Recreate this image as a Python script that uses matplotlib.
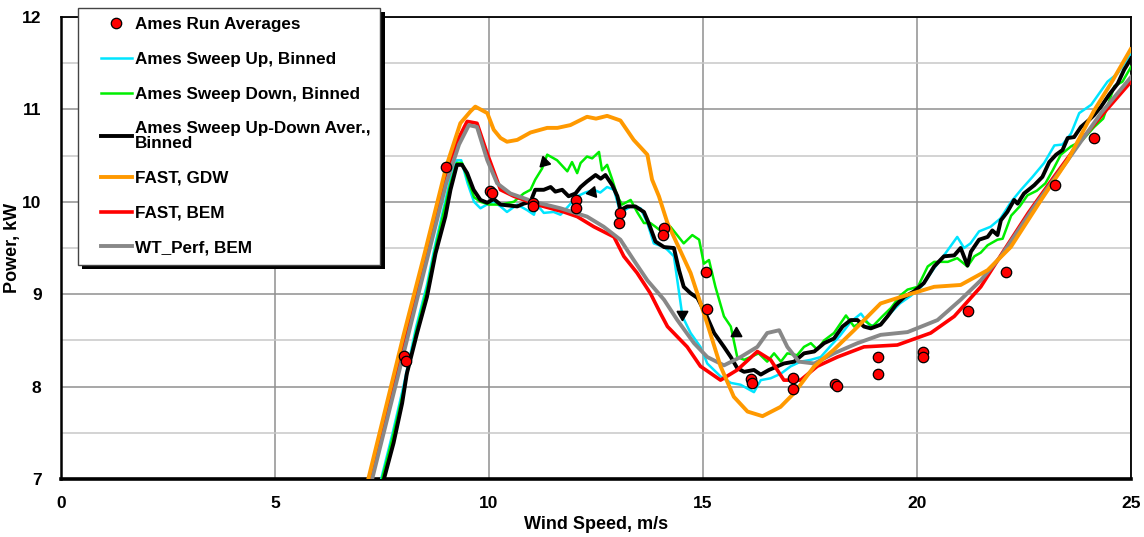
import matplotlib
matplotlib.use("Agg")
import matplotlib.pyplot as plt
import matplotlib.patheffects as pe
from matplotlib.legend_handler import HandlerLine2D

plt.rcParams['font.family'] = ['Liberation Sans', 'DejaVu Sans']
plt.rcParams['font.weight'] = 'bold'

# ---------------- data ----------------
run_w = [8.02, 8.07, 9.0, 10.03, 10.07, 11.03, 11.03, 12.04, 12.04, 13.07, 13.03,
         14.10, 14.07, 15.08, 15.10, 16.11, 16.14, 17.10, 17.11, 18.08, 18.14,
         19.10, 19.10, 20.14, 20.14, 21.18, 22.09, 23.22, 24.13]
run_p = [8.33, 8.28, 10.38, 10.12, 10.10, 9.99, 9.95, 10.02, 9.93, 9.88, 9.77,
         9.72, 9.64, 9.24, 8.84, 8.08, 8.04, 8.09, 7.97, 8.03, 8.01,
         8.32, 8.14, 8.37, 8.32, 8.82, 9.24, 10.18, 10.69]

up_w = [7.48, 7.75, 8.0, 8.3, 8.55, 8.75, 8.95, 9.1, 9.25, 9.35, 9.5, 9.65, 9.8, 9.95,
        10.11, 10.27, 10.42, 10.66, 10.89, 11.05, 11.12, 11.28, 11.51, 11.67, 11.85,
        12.06, 12.25, 12.45, 12.6, 12.76, 12.92, 13.07, 13.31, 13.54, 13.7, 13.85,
        14.09, 14.17, 14.32, 14.4, 14.52, 14.71, 14.94, 15.1, 15.41, 15.65, 15.88,
        16.11, 16.19, 16.35, 16.58, 16.82, 17.05, 17.28, 17.52, 17.75, 18.0, 18.2,
        18.45, 18.69, 18.9, 19.15, 19.35, 19.6, 19.85, 20.1, 20.4, 20.63, 20.94,
        21.1, 21.25, 21.45, 21.72, 21.95, 22.2, 22.43, 22.7, 22.97, 23.21, 23.4,
        23.6, 23.79, 24.07, 24.45, 24.69, 25.0]
up_p = [7.0, 7.5, 8.0, 8.65, 9.1, 9.55, 9.95, 10.25, 10.45, 10.45, 10.2, 10.0, 9.93, 9.97,
        10.0, 9.95, 9.89, 9.97, 9.91, 9.86, 9.97, 9.88, 9.89, 9.86, 9.95,
        10.06, 10.1, 10.13, 10.1, 10.16, 10.13, 9.88, 9.95, 9.93, 9.77, 9.55,
        9.51, 9.48, 9.41, 9.15, 8.76, 8.58, 8.43, 8.25, 8.11, 8.04, 8.02,
        7.96, 7.94, 8.07, 8.09, 8.14, 8.22, 8.27, 8.29, 8.32, 8.45, 8.55,
        8.7, 8.79, 8.66, 8.67, 8.78, 8.9, 8.98, 9.08, 9.28, 9.42, 9.62,
        9.5, 9.55, 9.68, 9.73, 9.82, 10.0, 10.13, 10.27, 10.42, 10.61, 10.62,
        10.74, 10.96, 11.05, 11.30, 11.39, 11.61]

down_w = [7.5, 7.75, 8.0, 8.3, 8.55, 8.75, 8.95, 9.1, 9.25, 9.37, 9.5, 9.65, 9.8, 10.0,
          10.27, 10.58, 10.81, 10.97, 11.08, 11.24, 11.36, 11.59, 11.83, 11.94, 12.06,
          12.14, 12.29, 12.41, 12.57, 12.64, 12.76, 12.88, 13.0, 13.11, 13.31, 13.46,
          13.62, 13.77, 13.89, 14.0, 14.24, 14.55, 14.75, 14.91, 15.02, 15.14, 15.29,
          15.49, 15.65, 15.8, 15.96, 16.11, 16.3, 16.5, 16.66, 16.82, 16.97, 17.2,
          17.36, 17.52, 17.67, 17.83, 18.06, 18.34, 18.53, 18.76, 18.96, 19.19, 19.39,
          19.62, 19.78, 20.02, 20.25, 20.4, 20.72, 20.94, 21.18, 21.34, 21.49, 21.65,
          21.88, 22.0, 22.2, 22.4, 22.58, 22.8, 23.0, 23.17, 23.36, 23.6, 23.85, 24.14,
          24.35, 24.61, 24.8, 25.0]
down_p = [7.0, 7.45, 7.95, 8.6, 9.05, 9.5, 9.9, 10.2, 10.42, 10.42, 10.25, 10.05, 10.0, 9.97,
          9.97, 10.0, 10.09, 10.13, 10.24, 10.36, 10.51, 10.45, 10.33, 10.43, 10.31,
          10.42, 10.49, 10.47, 10.54, 10.34, 10.40, 10.24, 10.06, 9.97, 10.02, 9.89,
          9.77, 9.77, 9.73, 9.69, 9.73, 9.55, 9.64, 9.59, 9.33, 9.37, 9.08,
          8.76, 8.65, 8.32, 8.29, 8.32, 8.36, 8.27, 8.36, 8.27, 8.36, 8.34,
          8.43, 8.47, 8.40, 8.5, 8.58, 8.77, 8.65, 8.72, 8.65, 8.76, 8.85,
          8.99, 9.05, 9.08, 9.30, 9.35, 9.35, 9.39, 9.30, 9.41, 9.45, 9.53,
          9.59, 9.6, 9.85, 9.95, 10.07, 10.12, 10.2, 10.34, 10.51, 10.6, 10.66, 10.81,
          10.9, 11.25, 11.3, 11.46]

avg_w = [7.54, 7.77, 7.97, 8.08, 8.32, 8.55, 8.75, 8.98, 9.1, 9.25, 9.37, 9.49, 9.64, 9.8,
         9.96, 10.11, 10.27, 10.66, 10.81, 10.97, 11.08, 11.28, 11.44, 11.55, 11.71,
         11.86, 12.02, 12.14, 12.29, 12.49, 12.61, 12.72, 12.88, 13.0, 13.07, 13.23,
         13.42, 13.62, 13.73, 13.89, 14.09, 14.32, 14.44, 14.55, 14.71, 14.87, 15.06,
         15.26, 15.49, 15.65, 15.8, 15.96, 16.19, 16.35, 16.54, 16.89, 17.13, 17.36,
         17.6, 17.83, 18.06, 18.26, 18.45, 18.61, 18.76, 18.92, 19.15, 19.31, 19.5,
         19.7, 19.93, 20.16, 20.4, 20.63, 20.87, 21.02, 21.18, 21.26, 21.45, 21.65,
         21.76, 21.88, 21.96, 22.11, 22.27, 22.35, 22.5, 22.74, 22.93, 23.09, 23.25,
         23.4, 23.52, 23.67, 23.83, 24.03, 24.14, 24.3, 24.49, 24.69, 24.84, 25.0]
avg_p = [6.99, 7.39, 7.82, 8.14, 8.58, 8.97, 9.44, 9.84, 10.13, 10.40, 10.40, 10.31, 10.13,
         10.02, 9.99, 10.03, 9.97, 9.95, 9.98, 10.0, 10.13, 10.13, 10.16, 10.11, 10.13,
         10.06, 10.09, 10.16, 10.22, 10.29, 10.25, 10.29, 10.18, 10.06, 9.91, 9.95,
         9.95, 9.89, 9.77, 9.57, 9.51, 9.50, 9.26, 9.08, 9.01, 8.96, 8.79,
         8.58, 8.43, 8.32, 8.20, 8.16, 8.18, 8.13, 8.18, 8.25, 8.27, 8.36,
         8.38, 8.47, 8.52, 8.65, 8.72, 8.72, 8.65, 8.63, 8.67, 8.76, 8.88,
         8.97, 9.03, 9.12, 9.30, 9.41, 9.42, 9.50, 9.31, 9.46, 9.59, 9.62,
         9.69, 9.64, 9.80, 9.89, 10.02, 9.98, 10.09, 10.18, 10.27, 10.43, 10.51,
         10.56, 10.69, 10.70, 10.81, 10.89, 10.94, 11.03, 11.16, 11.28, 11.43, 11.55]

gdw_w = [7.18, 8.0, 8.5, 9.0, 9.33, 9.57, 9.68, 9.8, 9.96, 10.11, 10.27, 10.42, 10.66,
         10.97, 11.36, 11.6, 11.9, 12.29, 12.5, 12.76, 13.07, 13.38, 13.7, 13.81, 13.97,
         14.17, 14.71, 15.1, 15.41, 15.72, 16.04, 16.39, 16.81, 17.13, 17.6, 18.06,
         18.53, 19.15, 19.62, 20.4, 21.02, 21.65, 22.19, 22.9, 23.52, 24.14, 24.53, 24.99]
gdw_p = [7.0, 8.55, 9.45, 10.38, 10.85, 10.98, 11.03, 11.0, 10.96, 10.78, 10.69, 10.65, 10.67,
         10.75, 10.80, 10.80, 10.83, 10.92, 10.9, 10.93, 10.88, 10.67, 10.51, 10.24, 10.06,
         9.77, 9.23, 8.68, 8.22, 7.89, 7.73, 7.68, 7.78, 7.93, 8.22, 8.40,
         8.61, 8.90, 8.97, 9.08, 9.10, 9.26, 9.51, 10.02, 10.45, 10.99, 11.28, 11.65]

bem_w = [7.23, 8.0, 8.5, 9.0, 9.25, 9.49, 9.72, 9.96, 10.27, 10.58, 11.12, 11.75, 12.06,
         12.45, 12.92, 13.15, 13.46, 13.77, 14.01, 14.17, 14.63, 14.94, 15.41, 15.8,
         16.27, 16.58, 16.89, 17.28, 17.67, 18.14, 18.76, 19.54, 20.32, 20.87, 21.49,
         22.04, 22.6, 23.2, 23.8, 24.4, 25.0]
bem_p = [7.0, 8.48, 9.4, 10.32, 10.65, 10.87, 10.85, 10.52, 10.13, 10.06, 9.97, 9.89, 9.84,
         9.73, 9.62, 9.41, 9.23, 9.01, 8.79, 8.65, 8.43, 8.22, 8.07, 8.18,
         8.38, 8.29, 8.07, 8.07, 8.22, 8.32, 8.43, 8.45, 8.58, 8.76, 9.08,
         9.48, 9.88, 10.27, 10.65, 10.98, 11.3]

wtp_w = [7.27, 8.0, 8.5, 9.0, 9.3, 9.53, 9.72, 9.96, 10.19, 10.5, 11.05, 11.67, 12.29,
         12.68, 13.07, 13.38, 13.7, 14.09, 14.4, 14.79, 15.1, 15.49, 15.88, 16.27, 16.5,
         16.78, 16.97, 17.24, 17.6, 18.06, 18.61, 19.15, 19.78, 20.48, 21.02, 21.49,
         21.96, 22.74, 23.52, 24.3, 25.0]
wtp_p = [7.0, 8.35, 9.28, 10.2, 10.62, 10.83, 10.81, 10.45, 10.2, 10.09, 10.0, 9.93, 9.84,
         9.73, 9.59, 9.37, 9.15, 8.94, 8.72, 8.47, 8.32, 8.23, 8.32, 8.43, 8.58,
         8.61, 8.43, 8.27, 8.25, 8.36, 8.47, 8.56, 8.59, 8.72, 8.94, 9.15,
         9.41, 9.95, 10.45, 10.96, 11.35]

arrow_w = [11.28, 12.41, 14.52, 15.76]
arrow_p = [10.43, 10.11, 8.79, 8.58]
arrow_ang = [-105, 100, 180, 0]

labels = ['Ames Run Averages', 'Ames Sweep Up, Binned', 'Ames Sweep Down, Binned',
          'Ames Sweep Up-Down Aver.,\nBinned', 'FAST, GDW', 'FAST, BEM', 'WT_Perf, BEM']
x_ticks = [0, 5, 10, 15, 20, 25]
y_ticks = [7, 8, 9, 10, 11, 12]

# ---------------- figure ----------------
fig = plt.figure(figsize=(11.44, 5.37), dpi=100)
ax = fig.add_axes([61 / 1144, 1 - 479 / 537, (1131 - 61) / 1144, (479 - 17) / 537])

ax.set_xlim(0, 25)
ax.set_ylim(7, 12)
ax.set_xticks(x_ticks)
ax.set_yticks(y_ticks)
ax.set_yticks([7.5, 8.5, 9.5, 10.5, 11.5], minor=True)
ax.grid(True, which='major', color='#8f8f8f', lw=1.1)
ax.grid(True, which='minor', axis='y', color='#c8c8c8', lw=1.1)
ax.set_axisbelow(True)
ax.tick_params(which='both', length=0)
ax.tick_params(axis='x', pad=12, labelsize=12.5)
ax.tick_params(axis='y', pad=14, labelsize=12.5)
for lab in ax.get_xticklabels() + ax.get_yticklabels():
    lab.set_fontweight('bold')

for s in ['top', 'right']:
    ax.spines[s].set_linewidth(1.3)
ax.spines['left'].set_linewidth(1.8)
ax.spines['bottom'].set_linewidth(2.6)

h_run, = ax.plot(run_w, run_p, 'o', ms=7.5, mfc='#ff0000', mec='black', mew=0.9, zorder=8)
h_up, = ax.plot(up_w, up_p, color='#00e5ff', lw=1.8, zorder=3)
h_down, = ax.plot(down_w, down_p, color='#00ee00', lw=1.8, zorder=3)
h_avg, = ax.plot(avg_w, avg_p, color='black', lw=2.8, zorder=4)
h_bem, = ax.plot(bem_w, bem_p, color='#ff0000', lw=2.6, zorder=5)
h_wtp, = ax.plot(wtp_w, wtp_p, color='#888888', lw=2.8, zorder=6)
h_gdw, = ax.plot(gdw_w, gdw_p, color='#ff9900', lw=2.8, zorder=7)

for w, p, a in zip(arrow_w, arrow_p, arrow_ang):
    ax.plot([w], [p], marker=(3, 0, a), ms=9, color='black', zorder=9)

ax.set_xlabel('Wind Speed, m/s', fontsize=13, fontweight='bold', labelpad=4)
ax.set_ylabel('Power, kW', fontsize=13, fontweight='bold', labelpad=1)

handles = [h_run, h_up, h_down, h_avg, h_gdw, h_bem, h_wtp]
leg = fig.legend(handles, labels, loc='upper left',
                 bbox_to_anchor=(78 / 1144, 1 - 8 / 537), bbox_transform=fig.transFigure,
                 prop={'weight': 'bold', 'size': 12.3}, frameon=True, fancybox=False,
                 framealpha=1.0, facecolor='white',
                 borderpad=0.55, labelspacing=1.15, handlelength=2.6, handletextpad=0.2,
                 borderaxespad=0,
                 handler_map={h: HandlerLine2D(xpad=0.8) for h in handles})
leg.get_frame().set_edgecolor('#444444')
leg.get_frame().set_linewidth(1.0)
leg.get_frame().set_path_effects([pe.withSimplePatchShadow(offset=(3.2, -3.2),
                                                           shadow_rgbFace='black', alpha=1.0)])
leg.get_texts()[3].set_linespacing(1.0)
leg.set_zorder(20)

fig.savefig('out.png', dpi=100)
